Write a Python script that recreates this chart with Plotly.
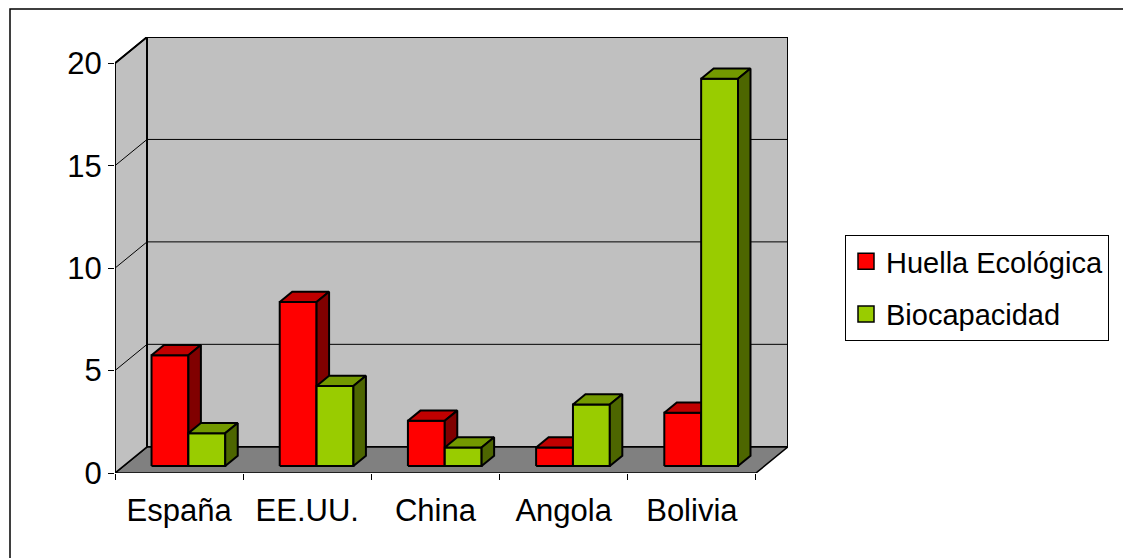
import plotly.graph_objects as go

# ---------------- data ----------------
categories = ["España", "EE.UU.", "China", "Angola", "Bolivia"]
huella = [5.4, 8.0, 2.2, 0.9, 2.6]
biocapacidad = [1.6, 3.9, 0.9, 3.0, 18.9]
series_names = ["Huella Ecológica", "Biocapacidad"]
y_ticks = [0, 5, 10, 15, 20]

# ---------------- style / geometry ----------------
FONT = "Liberation Sans, Arial, sans-serif"
FS = 31
front_cols = ["#FF0000", "#99CC00"]
top_cols = ["#C00000", "#739900"]
side_cols = ["#800000", "#4D6600"]
WALL = "#C0C0C0"
FLOOR = "#808080"

n = len(categories)
ymax = 20
DDX, DDY = 0.25, 1.28          # depth of the 3D box in data units
F1, F2 = 0.27, 0.66            # bar front / back depth fractions
BW = 0.2875                    # bar width
BSTART = 0.2175                # first bar left edge within a category

fig = go.Figure()


def poly(xs, ys, fill, lw=1.5, color="black"):
    fig.add_trace(go.Scatter(
        x=list(xs) + [xs[0]], y=list(ys) + [ys[0]], mode="lines", fill="toself",
        fillcolor=fill, line=dict(color=color, width=lw), showlegend=False,
        hoverinfo="skip"))


# floor
poly([0, n, n + DDX, DDX], [0, 0, DDY, DDY], FLOOR, 1.6)
# left wall
poly([0, DDX, DDX, 0], [0, DDY, ymax + DDY, ymax], WALL, 1.6)
# back wall
poly([DDX, n + DDX, n + DDX, DDX], [DDY, DDY, ymax + DDY, ymax + DDY], WALL, 1.6)

# gridlines
gx, gy = [], []
for v in y_ticks[1:-1]:
    gx += [0, DDX, n + DDX, None]
    gy += [v, v + DDY, v + DDY, None]
fig.add_trace(go.Scatter(x=gx, y=gy, mode="lines", line=dict(color="black", width=1),
                         showlegend=False, hoverinfo="skip"))
# wall frame edges on top of gridlines
fig.add_trace(go.Scatter(x=[0, 0, DDX, n + DDX, n + DDX, None, DDX, DDX],
                         y=[0, ymax, ymax + DDY, ymax + DDY, DDY, None, DDY, ymax + DDY],
                         mode="lines", line=dict(color="black", width=1.8),
                         showlegend=False, hoverinfo="skip"))

# bars
ox, oy = F1 * DDX, F1 * DDY
dx, dy = (F2 - F1) * DDX, (F2 - F1) * DDY
series = [huella, biocapacidad]
for i in range(n):
    for s, vals in enumerate(series):
        v = vals[i]
        xl = i + BSTART + s * BW + ox
        xr = xl + BW
        yb = oy
        yt = oy + v
        poly([xl, xr, xr, xl], [yb, yb, yt, yt], front_cols[s], 2)
        poly([xl, xr, xr + dx, xl + dx], [yt, yt, yt + dy, yt + dy], top_cols[s], 2)
        poly([xr, xr + dx, xr + dx, xr], [yb, yb + dy, yt + dy, yt], side_cols[s], 2)

# legend entries
for s in range(2):
    fig.add_trace(go.Scatter(
        x=[None], y=[None], mode="markers", name=series_names[s],
        legendgroup=series_names[s],
        marker=dict(symbol="square", size=16, color=front_cols[s],
                    line=dict(color="black", width=1.5))))

L, R, T, B = 115, 335, 37, 85
PW, PH = 1123 - L - R, 558 - T - B

bx0 = (10 - L) / PW
by1 = (473 - 9) / PH
fig.update_layout(
    width=1123, height=558,
    margin=dict(l=L, r=R, t=T, b=B),
    paper_bgcolor="white", plot_bgcolor="white",
    font=dict(family=FONT, size=FS, color="black"),
    xaxis=dict(range=[0, n + DDX], tickmode="array",
               tickvals=[i + 0.5 for i in range(n)], ticktext=categories,
               ticks="", showgrid=False, zeroline=False, showline=False,
               tickfont=dict(size=FS), ticklabelstandoff=16,
               minor=dict(tickmode="array", tickvals=list(range(n + 1)),
                          ticks="outside", ticklen=6, tickcolor="black",
                          tickwidth=1, showgrid=False),
               fixedrange=True),
    yaxis=dict(range=[0, ymax + DDY], tickmode="array", tickvals=y_ticks,
               ticks="outside", ticklen=6, tickcolor="black", tickwidth=1,
               showgrid=False, zeroline=False, showline=False,
               tickfont=dict(size=FS), fixedrange=True),
    legend=dict(x=(845 - L) / PW, y=(473 - 235) / PH, xanchor="left", yanchor="top",
                bordercolor="black", borderwidth=1, bgcolor="white",
                font=dict(size=29), tracegroupgap=12),
    shapes=[dict(type="path", xref="paper", yref="paper",
                 path=f"M {bx0} -1 L {bx0} {by1} L 3 {by1}",
                 line=dict(color="black", width=1.5), layer="below")],
    showlegend=True,
)

fig.write_html("out.html")
